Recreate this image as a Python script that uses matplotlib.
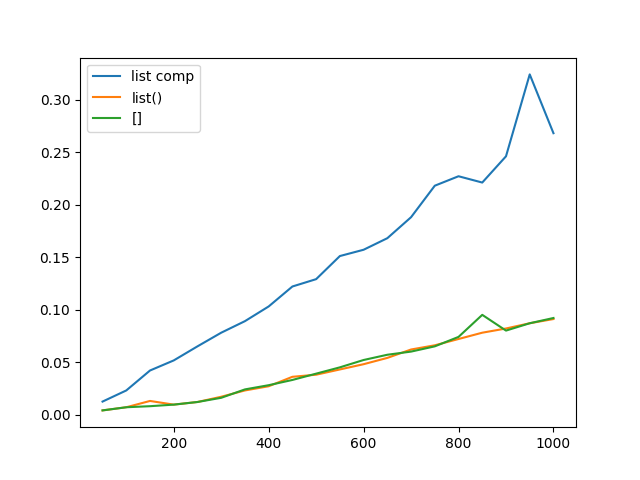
import matplotlib
matplotlib.use("Agg")
import matplotlib.pyplot as plt

sizes = list(range(50, 1001, 50))

list_comp = [0.0124, 0.023, 0.042, 0.0516, 0.065, 0.078, 0.089, 0.103, 0.122, 0.129,
             0.151, 0.157, 0.168, 0.188, 0.218, 0.227, 0.221, 0.246, 0.324, 0.268]
list_call = [0.004, 0.007, 0.013, 0.0095, 0.012, 0.017, 0.023, 0.027, 0.036, 0.038,
             0.043, 0.048, 0.054, 0.062, 0.066, 0.072, 0.078, 0.082, 0.087, 0.091]
brackets = [0.004, 0.007, 0.008, 0.0095, 0.012, 0.016, 0.024, 0.028, 0.033, 0.039,
            0.045, 0.052, 0.057, 0.060, 0.065, 0.074, 0.095, 0.080, 0.087, 0.092]

fig = plt.figure(figsize=(6.4, 4.8), dpi=100)
ax = fig.add_subplot(111)
ax.plot(sizes, list_comp, label="list comp")
ax.plot(sizes, list_call, label="list()")
ax.plot(sizes, brackets, label="[]")
ax.legend(loc="upper left")

fig.savefig("out.png")
